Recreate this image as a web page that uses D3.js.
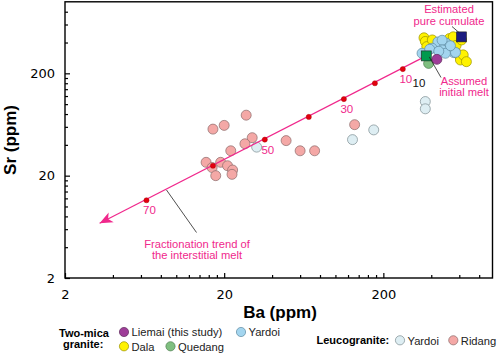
<!DOCTYPE html>
<meta charset="utf-8">
<html>
<head>
<script src="https://cdn.jsdelivr.net/npm/d3@7"></script>
<style>
  body { margin: 0; background: #fff; font-family: "Liberation Sans", Arial, sans-serif; }
  .tick text { font-family: "DejaVu Sans", sans-serif; font-size: 13px; fill: #000; }
</style>
</head>
<body>
<script>

// Ridang leucogranite
var ridangBa = [27.5, 17, 20, 30, 27, 22, 15.4, 19, 21, 16.8, 22.6, 22.4, 17.7, 49, 60, 74, 132];
var ridangSr = [78, 57, 62, 47, 41, 35, 27, 27, 25, 24, 22.7, 20.6, 20, 44, 35, 35, 63];

// Yardoi leucogranite
var leucoYardoiBa = [32, 128, 174, 367, 367];
var leucoYardoiSr = [38, 45, 56, 106, 90];

// two-mica granites
var dalaBa = [360, 367, 375, 406, 520, 550, 573, 620, 593, 610, 635, 665];
var dalaSr = [445, 410, 365, 424, 437, 455, 375, 424, 305, 270, 303, 260];

var yardoiBa = [440, 496, 468, 350, 405, 468, 553, 491, 391, 446, 568, 528];
var yardoiSr = [405, 394, 421, 314, 352, 339, 319, 314, 344, 329, 320, 372];

var quedangBa = [385];
var quedangSr = [250];

var liemaiBa = [434];
var liemaiSr = [274];

// fractionation trend (F = % crystallised)
var fracF  = [10, 20, 30, 40, 50, 60, 70];
var fracBa = [265, 177, 113, 68, 36, 17, 6.5];
var fracSr = [220, 160, 112, 75, 45, 25, 11.5];
var fracLabels = [10, 30, 50, 70];

var initialMelt = [372, 296];
var pureCumulate = [619, 454];
var trendEnd = [3.3, 6.85];

var majorTicks = [2, 20, 200];
var minorTicks = [4, 6, 8, 10, 12, 14, 16, 18, 40, 60, 80, 100, 120, 140, 160, 180, 400, 600, 800];

var magenta = "#f0288c";

var width = 498, height = 354;
var plotL = 65, plotR = 492.5, plotT = 1.8, plotB = 278;

var svg = d3.select("body").append("svg")
  .attr("width", width)
  .attr("height", height);

var x = d3.scaleLog().domain([2, 970]).range([plotL, plotR]);
var y = d3.scaleLog().domain([2, 1000]).range([plotB, plotT]);

var allTicks = majorTicks.concat(minorTicks);
var fmt = function(d) { return majorTicks.indexOf(d) >= 0 ? d : ""; };

// axes, ticks pointing inward
var xAxis = svg.append("g")
  .attr("transform", "translate(0," + plotB + ")")
  .call(d3.axisBottom(x).tickValues(allTicks).tickFormat(fmt).tickSize(-3).tickSizeOuter(0).tickPadding(12));
var yAxis = svg.append("g")
  .attr("transform", "translate(" + plotL + ",0)")
  .call(d3.axisLeft(y).tickValues(allTicks).tickFormat(fmt).tickSize(-3).tickSizeOuter(0).tickPadding(10));

xAxis.select(".domain").remove();
yAxis.select(".domain").remove();
xAxis.selectAll(".tick line").attr("stroke-width", 1.2)
  .filter(function(d) { return majorTicks.indexOf(d) >= 0; }).attr("y2", -5);
yAxis.selectAll(".tick line").attr("stroke-width", 1.2)
  .filter(function(d) { return majorTicks.indexOf(d) >= 0; }).attr("x2", 5);

// frame
svg.append("rect")
  .attr("x", plotL).attr("y", plotT)
  .attr("width", plotR - plotL).attr("height", plotB - plotT)
  .attr("fill", "none").attr("stroke", "#000").attr("stroke-width", 1.4);

// axis titles
svg.append("text")
  .attr("x", 280).attr("y", 317.5)
  .attr("text-anchor", "middle")
  .style("font-size", "17px").style("font-weight", "bold")
  .text("Ba (ppm)");
svg.append("text")
  .attr("transform", "translate(16,140) rotate(-90)")
  .attr("text-anchor", "middle")
  .style("font-size", "17px").style("font-weight", "bold")
  .text("Sr (ppm)");

// scatter groups
function drawPoints(ba, sr, fill, stroke) {
  svg.append("g").selectAll("circle")
    .data(d3.zip(ba, sr))
    .enter()
    .append("circle")
    .attr("cx", function(d) { return x(d[0]); })
    .attr("cy", function(d) { return y(d[1]); })
    .attr("r", 5)
    .attr("fill", fill)
    .attr("stroke", stroke)
    .attr("stroke-width", 0.7);
}

var colRidang = "#f4a8a6", colLeucoYardoi = "#deeef3", colDala = "#fff200",
    colYardoi = "#a3d5ef", colQuedang = "#7fbf80", colLiemai = "#9e3d98";

drawPoints(ridangBa, ridangSr, colRidang, "#8a6a6a");
drawPoints(leucoYardoiBa, leucoYardoiSr, colLeucoYardoi, "#7c8c90");
drawPoints(dalaBa, dalaSr, colDala, "#9a9000");
drawPoints(yardoiBa, yardoiSr, colYardoi, "#5d8aa0");
drawPoints(quedangBa, quedangSr, colQuedang, "#4f7f50");
drawPoints(liemaiBa, liemaiSr, colLiemai, "#5e2a5c");

// fractionation trend line with arrow
var x0 = x(initialMelt[0]), y0 = y(initialMelt[1]);
var x1 = x(trendEnd[0]), y1 = y(trendEnd[1]);
svg.append("line")
  .attr("x1", x0).attr("y1", y0).attr("x2", x1).attr("y2", y1)
  .attr("stroke", magenta).attr("stroke-width", 1.2);
var ang = Math.atan2(y1 - y0, x1 - x0) * 180 / Math.PI;
svg.append("path")
  .attr("d", "M0,0 L-13,-5.5 L-9.5,0 L-13,5.5 Z")
  .attr("transform", "translate(" + x1 + "," + y1 + ") rotate(" + ang + ")")
  .attr("fill", magenta);

svg.append("g").selectAll("circle")
  .data(d3.zip(fracF, fracBa, fracSr))
  .enter()
  .append("circle")
  .attr("cx", function(d) { return x(d[1]); })
  .attr("cy", function(d) { return y(d[2]); })
  .attr("r", 2.6)
  .attr("fill", "#e3000f")
  .attr("stroke", "#a00000")
  .attr("stroke-width", 0.4);

svg.append("g").selectAll("text")
  .data(d3.zip(fracF, fracBa, fracSr).filter(function(d) { return fracLabels.indexOf(d[0]) >= 0; }))
  .enter()
  .append("text")
  .attr("x", function(d) { return x(d[1]) + 3; })
  .attr("y", function(d) { return y(d[2]) + 14; })
  .attr("text-anchor", "middle")
  .style("font-size", "11.5px")
  .attr("fill", magenta)
  .text(function(d) { return d[0]; });

// end-member squares
function square(p, fill) {
  svg.append("rect")
    .attr("x", x(p[0]) - 5).attr("y", y(p[1]) - 5)
    .attr("width", 10).attr("height", 10)
    .attr("fill", fill).attr("stroke", "#222").attr("stroke-width", 0.6);
}
square(initialMelt, "#009a4e");
square(pureCumulate, "#1c1c80");

// annotations
function leader(xa, ya, xb, yb) {
  svg.append("line")
    .attr("x1", xa).attr("y1", ya).attr("x2", xb).attr("y2", yb)
    .attr("stroke", "#222").attr("stroke-width", 0.8);
}
function note(lines, cx, baseY, step) {
  lines.forEach(function(t, i) {
    svg.append("text")
      .attr("x", cx).attr("y", baseY + i * step)
      .attr("text-anchor", "middle")
      .style("font-size", "11.2px")
      .attr("fill", magenta)
      .text(t);
  });
}

note(["Estimated", "pure cumulate"], 449, 12.8, 11.7);
leader(452, 26.5, x(pureCumulate[0]) - 2, y(pureCumulate[1]) - 4);

note(["Assumed", "initial melt"], 464, 85.2, 10.6);
leader(x0 + 3, y0 + 1, 441, 77.5);

note(["Fractionation trend of", "the interstitial melt"], 197, 247.5, 11.6);
leader(166.5, 190, 196.5, 232.5);

svg.append("text")
  .attr("x", 419).attr("y", 87)
  .attr("text-anchor", "middle")
  .style("font-size", "11.5px")
  .attr("fill", "#111")
  .text("10");

// legend
var twoMicaNames = ["Liemai (this study)", "Yardoi", "Dala", "Quedang"];
var twoMicaColors = [colLiemai, colYardoi, colDala, colQuedang];
var twoMicaStroke = ["#5e2a5c", "#5d8aa0", "#9a9000", "#4f7f50"];
var twoMicaPos = [[124, 332], [241, 332], [124, 346.3], [170.5, 346.3]];

var leucoNames = ["Yardoi", "Ridang"];
var leucoColors = [colLeucoYardoi, colRidang];
var leucoStroke = ["#7c8c90", "#8a6a6a"];
var leucoPos = [[400, 340.3], [453.3, 340.3]];

svg.append("text").attr("x", 59).attr("y", 336.5)
  .style("font-size", "11px").style("font-weight", "bold").text("Two-mica");
svg.append("text").attr("x", 63).attr("y", 348)
  .style("font-size", "11px").style("font-weight", "bold").text("granite:");
svg.append("text").attr("x", 316.5).attr("y", 344.2)
  .style("font-size", "11px").style("font-weight", "bold").text("Leucogranite:");

function legendItems(names, colors, strokes, pos) {
  names.forEach(function(n, i) {
    svg.append("circle")
      .attr("cx", pos[i][0]).attr("cy", pos[i][1]).attr("r", 4.6)
      .attr("fill", colors[i]).attr("stroke", strokes[i]).attr("stroke-width", 0.7);
    svg.append("text")
      .attr("x", pos[i][0] + 7.5).attr("y", pos[i][1] + 4.2)
      .style("font-size", "11.2px")
      .attr("fill", "#222")
      .text(n);
  });
}
legendItems(twoMicaNames, twoMicaColors, twoMicaStroke, twoMicaPos);
legendItems(leucoNames, leucoColors, leucoStroke, leucoPos);

</script>
</body>
</html>
